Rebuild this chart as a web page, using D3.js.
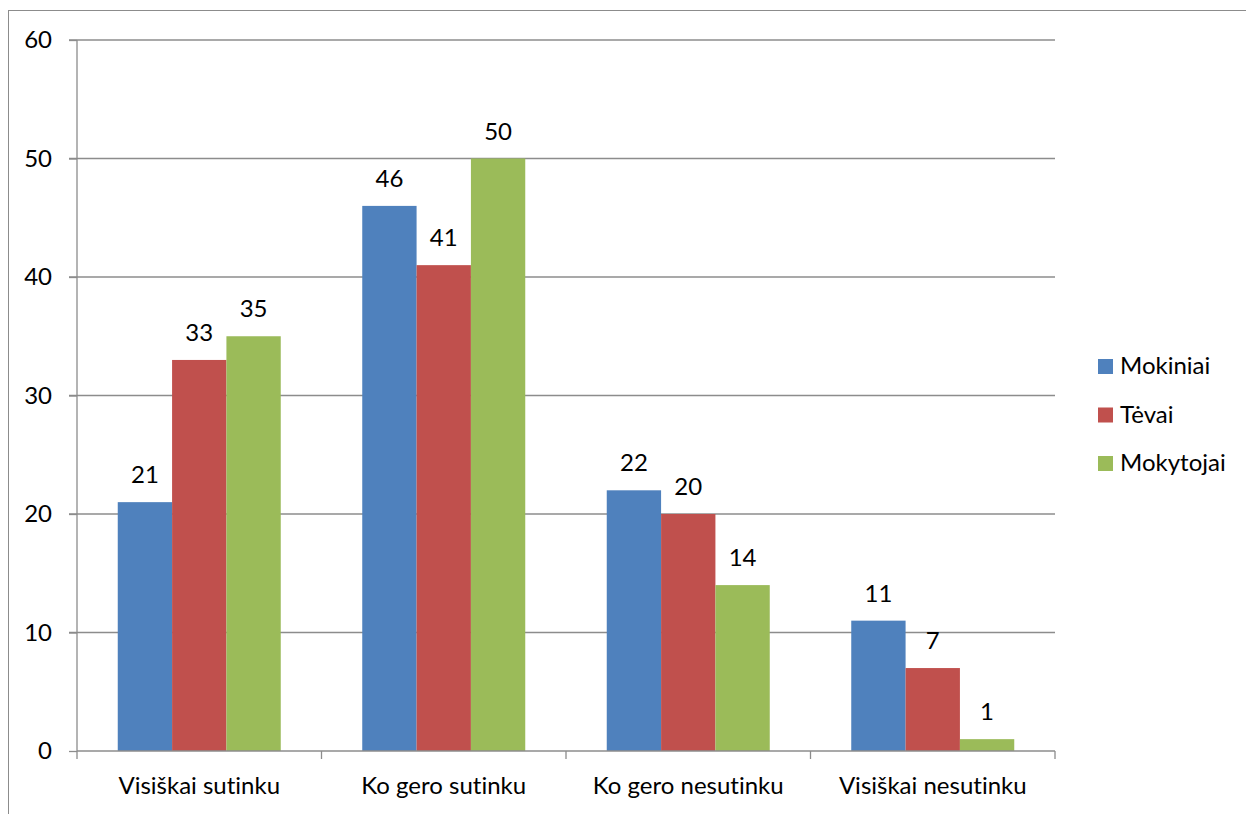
<!DOCTYPE html>
<html><head><meta charset="utf-8">
<script src="https://cdn.jsdelivr.net/npm/d3@7"></script>
<style>html,body{margin:0;padding:0;background:#fff;} svg{display:block;} text{font-variant-ligatures:none;font-feature-settings:"liga" 0;}</style>
</head><body>
<script>
const categories = ["Visiškai sutinku", "Ko gero sutinku", "Ko gero nesutinku", "Visiškai nesutinku"];
const seriesNames = ["Mokiniai", "Tėvai", "Mokytojai"];
const mokiniai = [21, 46, 22, 11];
const tevai = [33, 41, 20, 7];
const mokytojai = [35, 50, 14, 1];
const yTicks = [0, 10, 20, 30, 40, 50, 60];
const colors = ["#4F81BD", "#C0504D", "#9BBB59"];

const seriesValues = [mokiniai, tevai, mokytojai];
const W = 1246, H = 814;
const pLeft = 77, pRight = 1055, pTop = 40, pBottom = 751;
const font = "Lato, 'Open Sans', sans-serif";
const fs = 24;

const svg = d3.select("body").append("svg").attr("width", W).attr("height", H);
svg.append("rect").attr("x", 8.5).attr("y", 10.5).attr("width", W).attr("height", H)
  .attr("fill", "none").attr("stroke", "#8c8c8c").attr("stroke-width", 1);

const x0 = d3.scaleBand().domain(categories).range([pLeft, pRight]).padding(0);
const barW = x0.bandwidth() / (3 + 1.5);
const x1 = d3.scaleBand().domain(seriesNames).range([barW * 0.75, barW * 0.75 + barW * 3]).padding(0);
const y = d3.scaleLinear().domain([0, 60]).range([pBottom, pTop]);

// gridlines
svg.append("g").selectAll("line").data(yTicks.filter(d => d > 0)).join("line")
  .attr("x1", pLeft - 8).attr("x2", pRight).attr("y1", d => y(d)).attr("y2", d => y(d))
  .attr("stroke", "#8c8c8c").attr("stroke-width", 1.3);

// bars
const groups = svg.append("g").selectAll("g").data(categories).join("g")
  .attr("transform", d => `translate(${x0(d)},0)`);
groups.each(function(cat, ci) {
  const g = d3.select(this);
  seriesNames.forEach((s, si) => {
    const v = seriesValues[si][ci];
    g.append("rect").attr("x", x1(s)).attr("width", x1.bandwidth())
      .attr("y", y(v)).attr("height", y(0) - y(v)).attr("fill", colors[si]);
    g.append("text").attr("x", x1(s) + x1.bandwidth() / 2).attr("y", y(v) - 19)
      .attr("text-anchor", "middle").attr("font-family", font).attr("font-size", fs)
      .attr("fill", "#000").text(v);
  });
});

// y axis
const yAxis = svg.append("g").attr("transform", `translate(${pLeft},0)`)
  .call(d3.axisLeft(y).tickValues(yTicks).tickSize(8).tickPadding(17));
yAxis.select(".domain").attr("stroke", "#8c8c8c").attr("stroke-width", 1.3).attr("d", `M0,${pTop}V${pBottom}`);
yAxis.selectAll(".tick line").attr("stroke", "#8c8c8c").attr("stroke-width", 1.3);
yAxis.selectAll(".tick text").attr("font-family", font).attr("font-size", fs).attr("fill", "#000");

// x axis
const xAxis = svg.append("g").attr("transform", `translate(0,${pBottom})`)
  .call(d3.axisBottom(x0).tickSize(0).tickPadding(26));
xAxis.select(".domain").attr("stroke", "#8c8c8c").attr("stroke-width", 1.3).attr("d", `M${pLeft},0H${pRight}`);
xAxis.selectAll(".tick text").attr("font-family", font).attr("font-size", fs).attr("fill", "#000");
svg.append("g").selectAll("line").data(d3.range(categories.length + 1)).join("line")
  .attr("x1", i => pLeft + i * x0.bandwidth()).attr("x2", i => pLeft + i * x0.bandwidth())
  .attr("y1", pBottom).attr("y2", pBottom + 8).attr("stroke", "#8c8c8c").attr("stroke-width", 1.3);

// legend
const lg = svg.append("g").selectAll("g").data(seriesNames).join("g")
  .attr("transform", (d, i) => `translate(1098,${366 + i * 48.5})`);
lg.append("rect").attr("x", 0).attr("y", -7).attr("width", 15).attr("height", 15)
  .attr("fill", (d, i) => colors[i]);
lg.append("text").attr("x", 22).attr("y", 0).attr("dy", "0.35em")
  .attr("font-family", font).attr("font-size", fs).attr("fill", "#000").text(d => d);
</script>
</body></html>
